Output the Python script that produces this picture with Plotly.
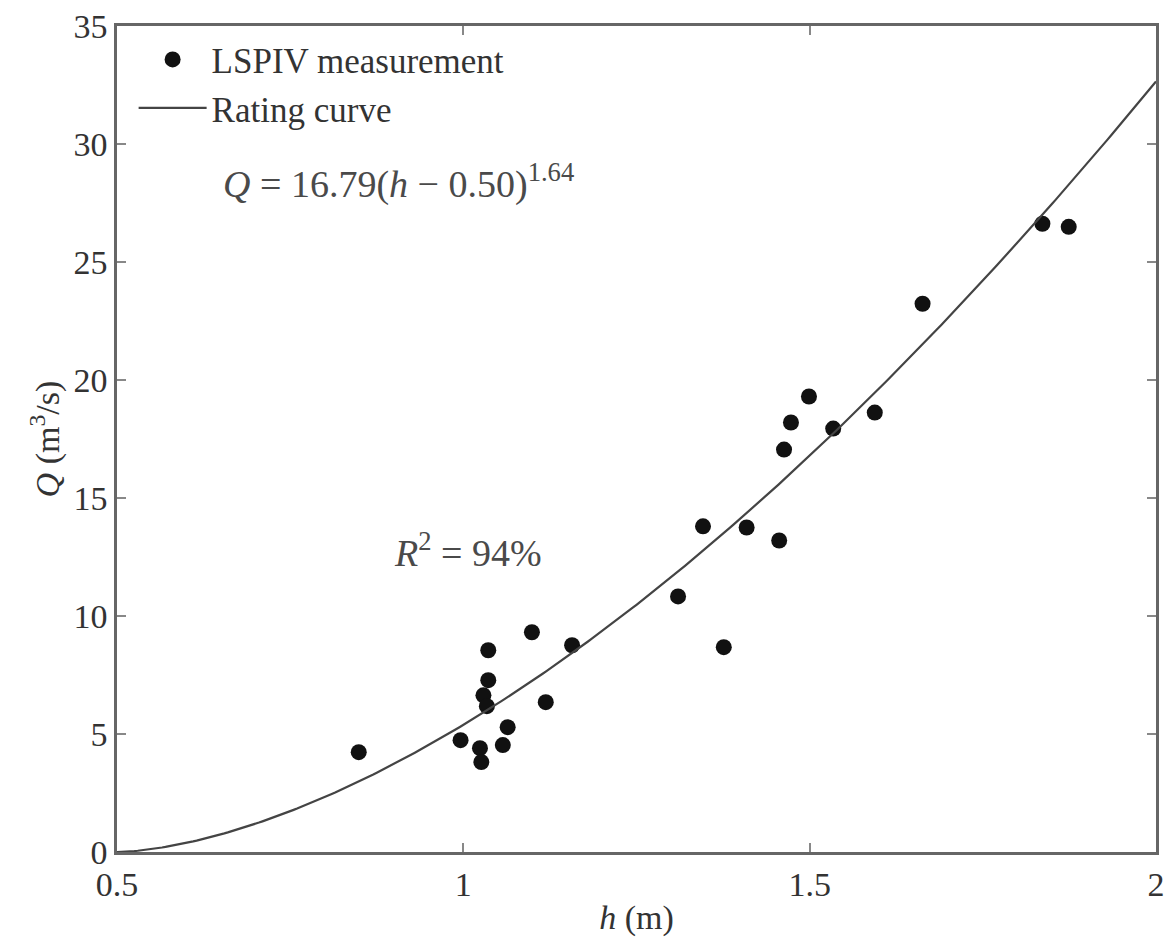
import numpy as np
import plotly.graph_objects as go

h_meas = [0.849, 0.996, 1.024, 1.026, 1.029, 1.034, 1.036, 1.036, 1.057, 1.064,
          1.099, 1.119, 1.157, 1.310, 1.346, 1.376, 1.409, 1.456, 1.463, 1.473,
          1.499, 1.534, 1.594, 1.663, 1.836, 1.874]
Q_meas = [4.23, 4.74, 4.40, 3.81, 6.64, 6.18, 7.28, 8.55, 4.53, 5.29,
          9.31, 6.35, 8.76, 10.83, 13.80, 8.68, 13.75, 13.20, 17.05, 18.20,
          19.30, 17.94, 18.62, 23.23, 26.62, 26.49]

# Rating curve parameters
a_coef = 16.79
h0 = 0.50
b_exp = 1.64
h_curve = np.linspace(0.5, 2.0, 301)
Q_curve = a_coef * (h_curve - h0) ** b_exp

x_ticks = [0.5, 1, 1.5, 2]
x_ticklabels = ["0.5", "1", "1.5", "2"]
y_ticks = [0, 5, 10, 15, 20, 25, 30, 35]

serif = "Liberation Serif"
txt = "#333333"

fig = go.Figure()
fig.add_trace(go.Scatter(x=h_meas, y=Q_meas, mode="markers", name="LSPIV measurement",
                         marker=dict(color="#111111", size=16, line=dict(width=0))))
fig.add_trace(go.Scatter(x=h_curve, y=Q_curve, mode="lines", name="Rating curve",
                         line=dict(color="#444444", width=2.2)))

axis_common = dict(showgrid=False, zeroline=False, showline=True, linecolor="#666666",
                   linewidth=2.5, mirror="ticks", ticks="inside", ticklen=9,
                   tickcolor="#888888", tickwidth=1.5,
                   tickfont=dict(family=serif, size=34, color=txt))

fig.update_xaxes(range=[0.5, 2], tickvals=x_ticks, ticktext=x_ticklabels,
                 title=dict(text="<i>h</i> (m)", font=dict(family=serif, size=34, color=txt),
                            standoff=4),
                 **axis_common)
fig.update_yaxes(range=[0, 35], tickvals=y_ticks,
                 title=dict(text="<i>Q</i> (m<sup>3</sup>/s)", font=dict(family=serif, size=34, color=txt),
                            standoff=4),
                 **axis_common)

fig.add_annotation(x=0.650, y=28.4, xref="x", yref="y", xanchor="left", yanchor="middle",
                   text="<i>Q</i> = 16.79(<i>h</i> \u2212 0.50)<sup>1.64</sup>", showarrow=False,
                   font=dict(family=serif, size=38, color="#4a4a4a"))
fig.add_annotation(x=0.897, y=12.8, xref="x", yref="y", xanchor="left", yanchor="middle",
                   text="<i>R</i><sup>2</sup> = 94%", showarrow=False,
                   font=dict(family=serif, size=38, color="#4a4a4a"))

fig.update_layout(
    width=1173, height=940,
    margin=dict(l=117, r=8, t=25, b=88),
    paper_bgcolor="white", plot_bgcolor="white",
    showlegend=True,
    legend=dict(x=0.016, y=0.995, xanchor="left", yanchor="top",
                bgcolor="rgba(0,0,0,0)", font=dict(family=serif, size=35, color=txt),
                itemwidth=68, tracegroupgap=0),
)

fig.write_html("out.html")
